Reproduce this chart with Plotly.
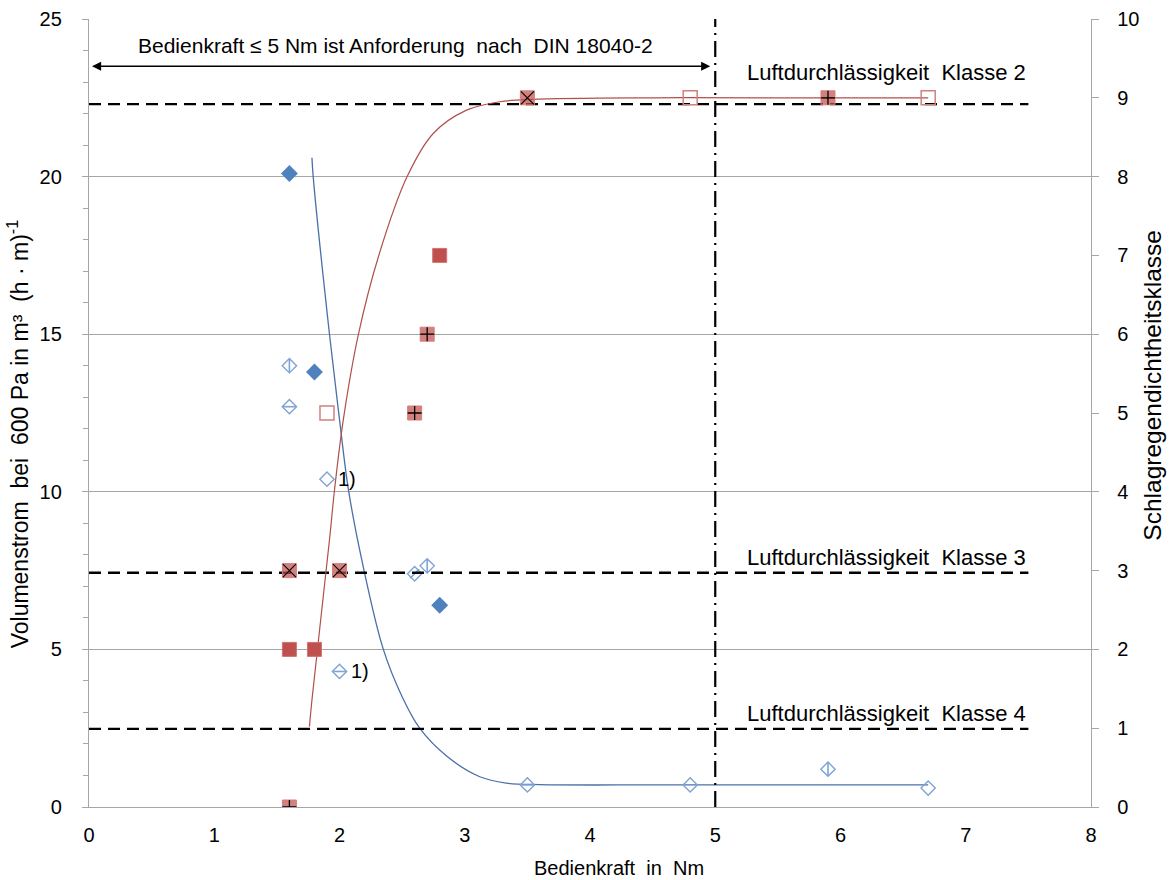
import plotly.graph_objects as go

# ---------------- data ----------------
# Volumenstrom (left axis), Bedienkraft in Nm
kraft_raute_voll = [1.6, 1.8, 2.8]
vol_raute_voll = [20.1, 13.8, 6.4]
kraft_raute_senk = [1.6, 2.7, 5.9]
vol_raute_senk = [14.0, 7.65, 1.2]
kraft_raute_waag = [1.6, 2.0, 3.5]
vol_raute_waag = [12.7, 4.3, 0.7]
kraft_raute_diag = [2.6]
vol_raute_diag = [7.4]
kraft_raute_offen = [1.9, 4.8, 6.7]
vol_raute_offen = [10.4, 0.7, 0.6]

# Schlagregendichtheitsklasse (right axis)
kraft_quad_voll = [1.6, 1.8, 2.8]
klasse_quad_voll = [2, 2, 7]
kraft_quad_x = [1.6, 2.0, 3.5]
klasse_quad_x = [3, 3, 9]
kraft_quad_plus = [1.6, 2.6, 2.7, 5.9]
klasse_quad_plus = [0, 5, 6, 9]
kraft_quad_offen = [1.9, 4.8, 6.7]
klasse_quad_offen = [5, 9, 9]

# trend curves
kurve_blau_x = [1.78, 1.79, 1.92, 2.0, 2.07, 2.18, 2.35, 2.5, 2.64, 2.86, 3.12, 3.33, 3.6, 4.5, 5.5, 6.7]
kurve_blau_y = [20.6, 20.0, 15.0, 12.3, 10.1, 7.8, 5.0, 3.5, 2.5, 1.6, 0.96, 0.76, 0.71, 0.7, 0.7, 0.7]
kurve_rot_x = [1.76, 1.78, 1.92, 1.96, 2.03, 2.15, 2.31, 2.54, 2.75, 3.01, 3.28, 3.54, 4.5, 5.5, 6.7]
kurve_rot_y = [1.02, 1.36, 3.39, 4.02, 4.91, 5.99, 6.98, 8.0, 8.55, 8.84, 8.95, 8.98, 9.0, 9.0, 9.0]

# Luftdurchlässigkeit class limits (m³/(h·m) at 600 Pa)
klassen_namen = ["Luftdurchlässigkeit  Klasse 2", "Luftdurchlässigkeit  Klasse 3", "Luftdurchlässigkeit  Klasse 4"]
klassen_grenzen = [22.3, 7.43, 2.48]
klassen_x = [0, 7.5]
grenze_bedienkraft = 5

x_ticks = [0, 1, 2, 3, 4, 5, 6, 7, 8]
y_ticks = [0, 5, 10, 15, 20, 25]
y2_ticks = [0, 1, 2, 3, 4, 5, 6, 7, 8, 9, 10]

# ---------------- styles ----------------
BLUE = "#4F81BD"
BLUE_L = "#7EA3D6"
RED = "#C0504D"
RED_T = "rgba(192,80,77,0.72)"
RED_L = "#D2807D"
GRID = "#A6A6A6"
FONT = "Liberation Sans, Arial, sans-serif"

fig = go.Figure()

# trend curves
fig.add_trace(go.Scatter(x=kurve_blau_x, y=kurve_blau_y, mode="lines",
                         line=dict(color="#4A70A8", width=1.3, shape="spline", smoothing=1.0),
                         yaxis="y", hoverinfo="skip"))
fig.add_trace(go.Scatter(x=kurve_rot_x, y=kurve_rot_y, mode="lines",
                         line=dict(color="#B0504C", width=1.2, shape="spline", smoothing=1.0),
                         yaxis="y2", hoverinfo="skip"))

# blue diamonds
fig.add_trace(go.Scatter(x=kraft_raute_voll, y=vol_raute_voll, mode="markers", yaxis="y",
                         marker=dict(symbol="diamond", size=13, color=BLUE, line=dict(width=0))))
for xs, ys, sym in [(kraft_raute_senk, vol_raute_senk, "line-ns-open"),
                    (kraft_raute_waag, vol_raute_waag, "line-ew-open"),
                    (kraft_raute_diag, vol_raute_diag, "line-ne-open")]:
    fig.add_trace(go.Scatter(x=xs, y=ys, mode="markers", yaxis="y",
                             marker=dict(symbol="diamond-open", size=11, color=BLUE_L,
                                         line=dict(width=1.4, color=BLUE_L))))
    fig.add_trace(go.Scatter(x=xs, y=ys, mode="markers", yaxis="y",
                             marker=dict(symbol=sym, size=9, color=BLUE_L,
                                         line=dict(width=1.6, color=BLUE_L))))
fig.add_trace(go.Scatter(x=kraft_raute_offen, y=vol_raute_offen, mode="markers", yaxis="y",
                         marker=dict(symbol="diamond-open", size=11, color=BLUE_L,
                                     line=dict(width=1.4, color=BLUE_L))))

# red squares
fig.add_trace(go.Scatter(x=kraft_quad_voll, y=klasse_quad_voll, mode="markers", yaxis="y2",
                         marker=dict(symbol="square", size=14, color=RED,
                                     line=dict(width=1, color="#D07370"))))
fig.add_trace(go.Scatter(x=kraft_quad_x, y=klasse_quad_x, mode="markers", yaxis="y2",
                         marker=dict(symbol="square", size=14, color=RED_T,
                                     line=dict(width=1, color=RED_L))))
fig.add_trace(go.Scatter(x=kraft_quad_x, y=klasse_quad_x, mode="markers", yaxis="y2",
                         marker=dict(symbol="x-thin-open", size=13, color="black",
                                     line=dict(width=1.1, color="black"))))
fig.add_trace(go.Scatter(x=kraft_quad_plus, y=klasse_quad_plus, mode="markers", yaxis="y2",
                         marker=dict(symbol="square", size=14, color=RED_T,
                                     line=dict(width=1, color=RED_L))))
fig.add_trace(go.Scatter(x=kraft_quad_plus, y=klasse_quad_plus, mode="markers", yaxis="y2",
                         marker=dict(symbol="cross-thin-open", size=10, color="black",
                                     line=dict(width=1.3, color="black"))))
fig.add_trace(go.Scatter(x=kraft_quad_offen, y=klasse_quad_offen, mode="markers", yaxis="y2",
                         marker=dict(symbol="square-open", size=14, color=RED_L,
                                     line=dict(width=1.5, color=RED_L))))

# class limit dashed lines
for g in klassen_grenzen:
    fig.add_trace(go.Scatter(x=klassen_x, y=[g, g], mode="lines", yaxis="y",
                             line=dict(color="black", width=2.4, dash="12px,7px"), hoverinfo="skip"))
# vertical dash-dot line at 5 Nm
fig.add_trace(go.Scatter(x=[grenze_bedienkraft, grenze_bedienkraft], y=[0, 25], mode="lines", yaxis="y",
                         line=dict(color="black", width=2.2, dash="16px,6px,2px,6px"), hoverinfo="skip"))

annotations = []
# double arrow
annotations.append(dict(x=4.96, y=23.5, ax=0.0, ay=23.5, xref="x", yref="y", axref="x", ayref="y",
                        text=" ", showarrow=True, arrowhead=2, startarrowhead=2, arrowside="end+start",
                        arrowsize=1.3, startarrowsize=1.3, arrowwidth=1.4, arrowcolor="black",
                        standoff=0, startstandoff=0, font=dict(size=10)))
annotations.append(dict(x=2.45, y=24.17, xref="x", yref="y", showarrow=False,
                        text="Bedienkraft ≤ 5 Nm ist Anforderung  nach  DIN 18040-2",
                        font=dict(size=21, color="black", family=FONT), xanchor="center", yanchor="middle"))
klassen_label_y = [23.29, 7.93, 2.98]
for name, ly in zip(klassen_namen, klassen_label_y):
    annotations.append(dict(x=7.5, y=ly, xref="x", yref="y", showarrow=False, text=name,
                            font=dict(size=22, color="black", family=FONT),
                            xanchor="right", yanchor="middle"))
for xx, yy in [(1.9, 10.4), (2.0, 4.3)]:
    annotations.append(dict(x=xx, y=yy, xref="x", yref="y", showarrow=False, text="1)",
                            font=dict(size=20, color="black", family=FONT),
                            xanchor="left", yanchor="middle", xshift=9))
# axis titles
annotations.append(dict(x=0.529, y=-0.078, xref="paper", yref="paper", showarrow=False,
                        text="Bedienkraft  in  Nm", font=dict(size=20, color="black", family=FONT),
                        xanchor="center", yanchor="middle"))
annotations.append(dict(x=-0.0712, y=0.199, xref="paper", yref="paper", showarrow=False,
                        text="Volumenstrom  bei  600 Pa in m³  (h · m)<sup>-1</sup>", textangle=-90,
                        font=dict(size=23, color="black", family=FONT),
                        xanchor="center", yanchor="bottom"))
annotations.append(dict(x=1.0612, y=0.735, xref="paper", yref="paper", showarrow=False,
                        text="Schlagregendichtheitsklasse", textangle=-90,
                        font=dict(size=24.5, color="black", family=FONT),
                        xanchor="center", yanchor="top"))

fig.update_layout(
    width=1172, height=880,
    margin=dict(l=89, r=81, t=19, b=73, autoexpand=False),
    paper_bgcolor="white", plot_bgcolor="white",
    showlegend=False,
    font=dict(family=FONT, color="black", size=20),
    annotations=annotations,
    xaxis=dict(range=[0, 8], tickvals=x_ticks, showgrid=False, zeroline=False,
               showline=True, linecolor=GRID, linewidth=1.3, ticks="", ticklabelstandoff=10,
               automargin=False,
               tickfont=dict(size=20, family=FONT, color="black")),
    yaxis=dict(range=[0, 25], tickvals=y_ticks, showgrid=True, gridcolor=GRID, gridwidth=1.2,
               zeroline=False, showline=True, linecolor=GRID, linewidth=1.3,
               ticks="outside", ticklen=6, tickcolor=GRID, ticklabelstandoff=16, automargin=False,
               minor=dict(dtick=1, ticks="outside", ticklen=5, tickcolor=GRID, showgrid=False),
               tickfont=dict(size=20, family=FONT, color="black")),
    yaxis2=dict(range=[0, 10], tickvals=y2_ticks, overlaying="y", side="right",
                showgrid=False, zeroline=False, showline=True, linecolor=GRID, linewidth=1.3,
                ticks="outside", ticklen=7, tickcolor=GRID, ticklabelstandoff=14, automargin=False,
                tickfont=dict(size=20, family=FONT, color="black")),
)

fig.write_html("out.html", config={"displayModeBar": False},
               post_script="document.body.style.margin='0';document.body.style.padding='0';document.body.style.overflow='hidden';")
